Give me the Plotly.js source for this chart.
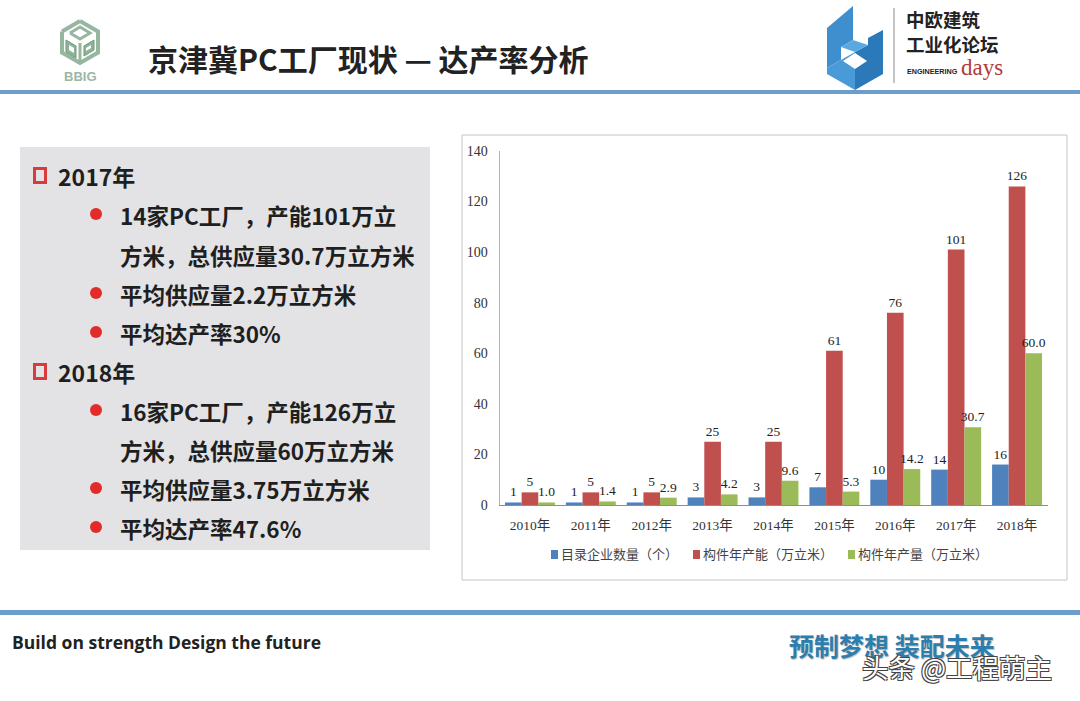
<!DOCTYPE html>
<html>
<head>
<meta charset="utf-8">
<script src="https://cdn.plot.ly/plotly-3.0.1.min.js"></script>
<style>
html,body{margin:0;padding:0;background:#fff;}
#chart{width:1080px;height:701px;}
</style>
</head>
<body>
<div id="chart"></div>
<script>
// ---- data ----
const categories = ["2010年","2011年","2012年","2013年","2014年","2015年","2016年","2017年","2018年"];
const firmCount = [1, 1, 1, 3, 3, 7, 10, 14, 16];
const capacity = [5, 5, 5, 25, 25, 61, 76, 101, 126];
const output = [1.0, 1.4, 2.9, 4.2, 9.6, 5.3, 14.2, 30.7, 60.0];
const seriesNames = ["目录企业数量（个）", "构件年产能（万立米）", "构件年产量（万立米）"];
const seriesColors = ["#4f81bd", "#c0504d", "#9bbb59"];
const yTicks = [0, 20, 40, 60, 80, 100, 120, 140];

const pageTitle = "京津冀PC工厂现状 — 达产率分析";
const boxLines = [
  {type: "head", text: "2017年"},
  {type: "bullet", text: "14家PC工厂，产能101万立"},
  {type: "cont", text: "方米，总供应量30.7万立方米"},
  {type: "bullet", text: "平均供应量2.2万立方米"},
  {type: "bullet", text: "平均达产率30%"},
  {type: "head", text: "2018年"},
  {type: "bullet", text: "16家PC工厂，产能126万立"},
  {type: "cont", text: "方米，总供应量60万立方米"},
  {type: "bullet", text: "平均供应量3.75万立方米"},
  {type: "bullet", text: "平均达产率47.6%"}
];

// ---- helpers (pixel -> paper) ----
const W = 1080, H = 701;
const px = x => x / W;
const py = y => 1 - y / H;
function path(pts) {
  return "M" + pts.map(p => px(p[0]).toFixed(5) + "," + py(p[1]).toFixed(5)).join("L") + "Z";
}
function openPath(pts) {
  return "M" + pts.map(p => px(p[0]).toFixed(5) + "," + py(p[1]).toFixed(5)).join("L");
}
function rect(x0, y0, x1, y1, fill, line, lw) {
  return {type: "rect", xref: "paper", yref: "paper", x0: px(x0), x1: px(x1), y0: py(y1), y1: py(y0),
    fillcolor: fill || "rgba(0,0,0,0)", line: {color: line || "rgba(0,0,0,0)", width: lw || 0}, layer: "below"};
}
function poly(pts, fill, line, lw, closed) {
  return {type: "path", xref: "paper", yref: "paper", path: closed === false ? openPath(pts) : path(pts),
    fillcolor: closed === false ? "rgba(0,0,0,0)" : fill, line: {color: line || "rgba(0,0,0,0)", width: lw || 0}, layer: "above"};
}
function ann(text, x, y, size, color, opts) {
  return Object.assign({xref: "paper", yref: "paper", x: px(x), y: py(y), text: text, showarrow: false,
    xanchor: "left", yanchor: "middle",
    font: {family: "Noto Sans CJK SC, Noto Sans, sans-serif", size: size, color: color}}, opts || {});
}

const shapes = [];
const annotations = [];

// header / footer lines
shapes.push(rect(0, 90, 1080, 94, "#6d9dca"));
shapes.push(rect(0, 610, 1080, 615, "#6d9dca"));

// chart frame
shapes.push(rect(462, 135, 1067, 580, "rgba(0,0,0,0)", "#c4c4c4", 1));

// left grey box
shapes.push(rect(20, 147, 430, 550, "#e3e3e5"));

// BBIG logo (approximate cube icon)
const lg = "#96b6a0", dg = "#6e9b7b";
shapes.push(poly([[80,21],[98,31.5],[98,52.5],[80,63],[62,52.5],[62,31.5]], null, lg, 4, false));
shapes.push(poly([[62,31.5],[80,21]], null, lg, 4, false));
shapes.push(poly([[70,33],[80,27],[90,33],[80,39],[70,33]], null, lg, 3, false));
shapes.push(poly([[80,43],[80,62]], null, lg, 3, false));
shapes.push(poly([[66,40],[76,46],[76,58],[66,52]], "#8fb39a", dg, 1));
shapes.push(poly([[84,46],[94,40],[94,50],[84,56]], "#8fb39a", dg, 1));
shapes.push(poly([[69,45],[74,48],[74,53],[69,50]], "#ffffff", null, 0));
shapes.push(poly([[86,48],[91,45],[91,48],[86,51]], "#ffffff", null, 0));
annotations.push(ann("<b>BBIG</b>", 80, 77, 13, "#9cb7a6", {xanchor: "center",
  font: {family: "Liberation Sans, sans-serif", size: 13, color: "#9cb7a6"}}));

// right logo (approximate blue "6" block)
shapes.push(poly([[827,28],[853,6],[853,40],[841,47],[841,60],[827,68]], "#3f8fcf"));
shapes.push(poly([[827,68],[841,60],[855,52],[855,90],[827,74]], "#4a9ad8"));
shapes.push(poly([[855,52],[868,45],[868,38],[883,30],[883,74],[855,90]], "#2c79ba"));
shapes.push(poly([[841,47],[853,40],[868,45],[855,52]], "#5aa8e0"));
shapes.push(poly([[855,53],[867,61],[855,69],[843,61]], "#ffffff"));
shapes.push(poly([[894,8],[894,83]], null, "#8a8a8a", 1, false));
annotations.push(ann("<b>中欧建筑</b>", 904, 19, 18.5, "#222"));
annotations.push(ann("<b>工业化论坛</b>", 904, 44, 18.5, "#222"));
annotations.push(ann("<b>ENGINEERING</b>", 905, 72, 7.2, "#222",
  {font: {family: "Liberation Sans, sans-serif", size: 7.2, color: "#222"}}));
annotations.push(ann("days", 959, 68, 23, "#b23a3c",
  {font: {family: "Liberation Serif, serif", size: 23, color: "#b23a3c"}}));

// title
annotations.push(ann("<b>" + pageTitle + "</b>", 146, 58, 30, "#222"));

// box texts
const lineY = [176, 215, 255, 294, 333, 372, 411, 450, 489, 528];
boxLines.forEach((ln, i) => {
  const y = lineY[i];
  if (ln.type === "head") {
    shapes.push(Object.assign(rect(34.5, 168.5 + (y - 176), 45.5, 182.5 + (y - 176), "rgba(0,0,0,0)", "#d83b3b", 3), {layer: "above"}));
    annotations.push(ann("<b>" + ln.text + "</b>", 56, y, 23, "#1f1f1f"));
  } else {
    if (ln.type === "bullet") {
      shapes.push({type: "circle", xref: "paper", yref: "paper", x0: px(90), x1: px(102), y0: py(y + 5), y1: py(y - 7),
        fillcolor: "#e32b2b", line: {width: 0}, layer: "above"});
    }
    annotations.push(ann("<b>" + ln.text + "</b>", 118, y, 22.5, "#1f1f1f"));
  }
});

// chart legend (drawn from series names / colours)
const legendX = [551, 693, 848];
seriesNames.forEach((nm, i) => {
  shapes.push(Object.assign(rect(legendX[i], 550, legendX[i] + 7, 559, seriesColors[i]), {layer: "above"}));
  annotations.push(ann(nm, legendX[i] + 8, 553, 13, "#444"));
});

// footer
annotations.push(ann("<b>Build on strength Design the future</b>", 10, 642, 17.5, "#222",
  {font: {family: "Open Sans, Noto Sans, sans-serif", size: 17.5, color: "#222"}}));
annotations.push(ann("<b>预制梦想 装配未来</b>", 787, 645, 25, "#2c7eae",
  {font: {family: "Noto Sans CJK SC, sans-serif", size: 25, color: "#2c7eae", shadow: "1px 1px 1px rgba(0,0,0,0.25)"}}));
annotations.push(ann("头条 @工程萌主", 860, 666, 26.5, "#ffffff",
  {font: {family: "Noto Sans CJK SC, sans-serif", size: 26.5, color: "#ffffff",
    shadow: "-1px -1px 0 #444, 1px -1px 0 #444, -1px 1px 0 #444, 1px 1px 0 #444"}}));

// ---- traces ----
const labelFont = {family: "Liberation Serif, Noto Sans CJK SC, serif", size: 13.5, color: "#222"};
function barTrace(vals, name, color, fmt) {
  return {type: "bar", x: categories, y: vals, name: name,
    marker: {color: color}, text: vals.map(fmt), textposition: "outside", textfont: labelFont,
    constraintext: "none", cliponaxis: false, hoverinfo: "skip"};
}
const traces = [
  barTrace(firmCount, seriesNames[0], seriesColors[0], v => String(v)),
  barTrace(capacity, seriesNames[1], seriesColors[1], v => String(v)),
  barTrace(output, seriesNames[2], seriesColors[2], v => v.toFixed(1))
];

const layout = {
  width: W, height: H,
  margin: {l: 0, r: 0, t: 0, b: 0},
  paper_bgcolor: "#ffffff", plot_bgcolor: "rgba(0,0,0,0)",
  barmode: "group", bargap: 0.18, bargroupgap: 0,
  xaxis: {domain: [px(499.5), px(1047.5)], type: "category", showline: true, linecolor: "#8e8e8e", linewidth: 1,
    ticks: "", showgrid: false, zeroline: false, ticklabelstandoff: 8,
    tickfont: {family: "Liberation Serif, Noto Sans CJK SC, serif", size: 13.5, color: "#333"}},
  yaxis: {domain: [py(505), py(151)], range: [0, 140], showline: true, linecolor: "#b5b5b5", linewidth: 1,
    tickvals: yTicks, ticks: "", showgrid: false, zeroline: false, ticklabelstandoff: 8,
    tickfont: {family: "Liberation Serif, serif", size: 14, color: "#333"}},
  showlegend: false,
  shapes: shapes,
  annotations: annotations
};

Plotly.newPlot("chart", traces, layout, {displayModeBar: false, staticPlot: true});
</script>
</body>
</html>
